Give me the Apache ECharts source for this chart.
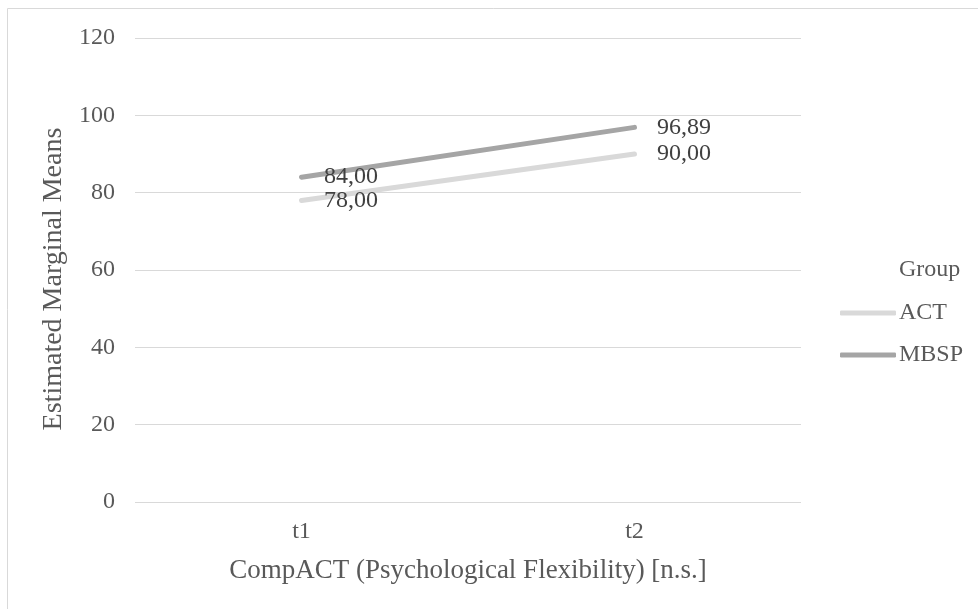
<!DOCTYPE html>
<html><head><meta charset="utf-8">
<script src="https://cdn.jsdelivr.net/npm/echarts@6/dist/echarts.min.js"></script>
<style>html,body{margin:0;padding:0;background:#fff}#c{width:978px;height:609px}</style>
</head><body><div id="c"></div>
<script>
var categories = ['t1', 't2'];
var actValues = [78.00, 90.00];
var mbspValues = [84.00, 96.89];
var yTicks = [0, 20, 40, 60, 80, 100, 120];

var font = 'Liberation Serif';
var chart = echarts.init(document.getElementById('c'));
function fmt(p){ return Number(p.value).toFixed(2).replace('.', ','); }
function lbl(){ return { show: true, position: 'right', distance: 22, formatter: fmt, fontFamily: font, fontSize: 24, color: '#404040' }; }
chart.setOption({
  animation: false,
  textStyle: { fontFamily: font },
  graphic: [{ type: 'rect', shape: { x: 7.5, y: 8.5, width: 1000, height: 700 }, style: { fill: 'none', stroke: '#d9d9d9', lineWidth: 1 }, silent: true }],
  title: { text: 'Group', left: 899, top: 258, padding: [0,0,0,0], textStyle: { fontFamily: font, fontSize: 24, fontWeight: 'normal', color: '#595959' } },
  legend: {
    orient: 'vertical', left: 840, top: 301, padding: 0, itemWidth: 56, itemHeight: 5, itemGap: 18,
    icon: 'roundRect',
    textStyle: { fontFamily: font, fontSize: 24, color: '#595959', padding: [0,0,0,-2] },
    data: ['ACT', 'MBSP']
  },
  grid: { left: 135, right: 177, top: 38, bottom: 107 },
  xAxis: {
    type: 'category', data: categories, boundaryGap: true,
    name: 'CompACT (Psychological Flexibility) [n.s.]', nameLocation: 'middle', nameGap: 55,
    nameTextStyle: { fontFamily: font, fontSize: 27, color: '#595959' },
    axisLine: { show: false }, axisTick: { show: false },
    axisLabel: { fontFamily: font, fontSize: 24, color: '#595959', margin: 18 }
  },
  yAxis: {
    type: 'value', min: yTicks[0], max: yTicks[yTicks.length-1], interval: 20,
    name: 'Estimated Marginal Means', nameLocation: 'middle', nameGap: 65,
    nameTextStyle: { fontFamily: font, fontSize: 28, color: '#595959', padding: [0, 18, 0, 0] },
    axisLine: { show: false }, axisTick: { show: false },
    axisLabel: { fontFamily: font, fontSize: 24, color: '#595959', margin: 20 },
    splitLine: { lineStyle: { color: '#d9d9d9', width: 1 } }
  },
  series: [
    { name: 'ACT', type: 'line', data: actValues, symbol: 'circle', symbolSize: 1, showSymbol: true,
      itemStyle: { color: '#d9d9d9' },
      lineStyle: { width: 5, color: '#d9d9d9', cap: 'round' }, label: lbl() },
    { name: 'MBSP', type: 'line', data: mbspValues, symbol: 'circle', symbolSize: 1, showSymbol: true,
      itemStyle: { color: '#a5a5a5' },
      lineStyle: { width: 5, color: '#a5a5a5', cap: 'round' }, label: lbl() }
  ]
});
</script></body></html>
